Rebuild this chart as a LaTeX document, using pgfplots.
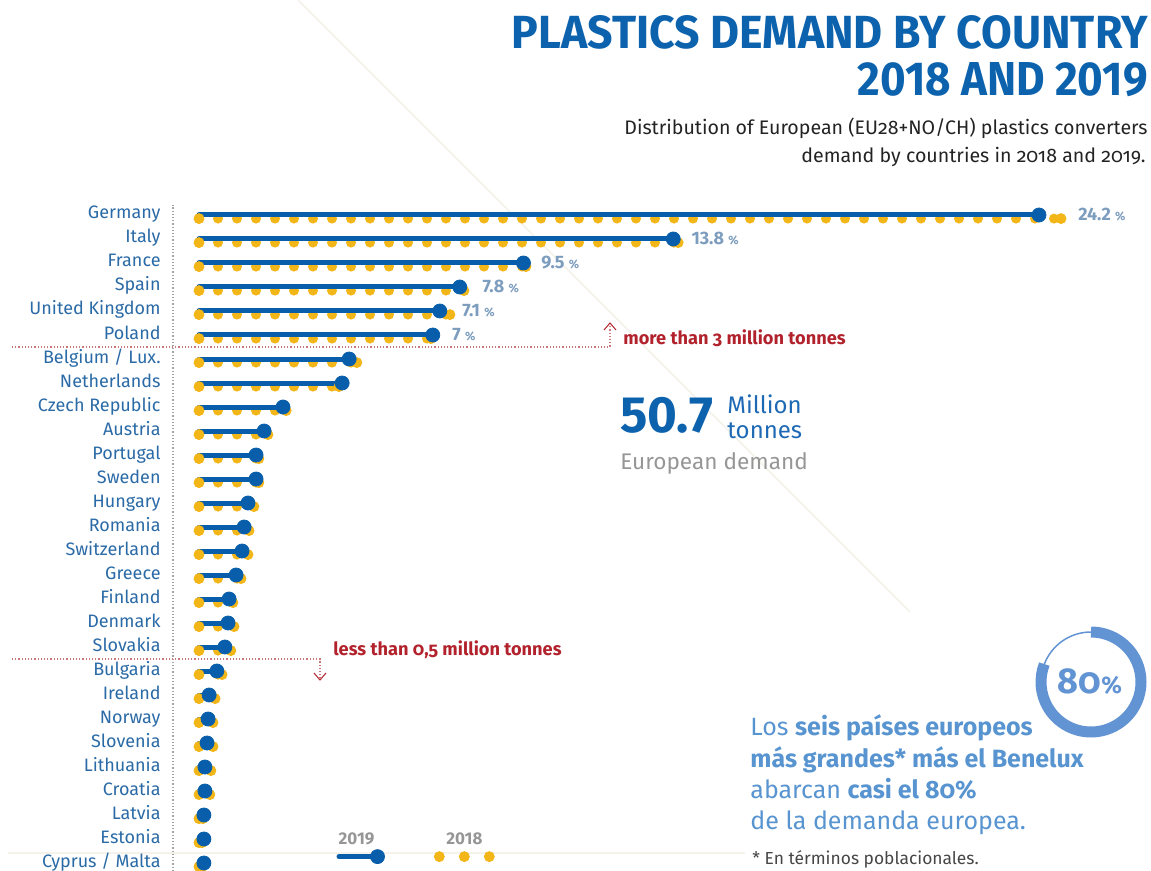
\documentclass[border=0pt]{standalone}
\usepackage{pgfplots}
\pgfplotsset{compat=1.18}
\usepackage{pgfplotstable}
\usepackage{graphicx}
\usepackage{fontspec}
\setmainfont{Fira Sans}
\newfontfamily\firaold{Fira Sans}[Numbers=OldStyle]

\definecolor{mblue}{RGB}{8,94,170}
\definecolor{myellow}{RGB}{243,182,25}
\definecolor{lblue}{RGB}{42,106,166}
\definecolor{pctgray}{RGB}{125,157,190}
\definecolor{tblue}{RGB}{12,98,173}
\definecolor{dred}{RGB}{178,34,44}
\definecolor{lred}{RGB}{205,120,120}
\definecolor{ringblue}{RGB}{98,148,212}
\definecolor{sptext}{RGB}{88,148,208}
\definecolor{greytext}{RGB}{150,150,150}
\definecolor{faint}{RGB}{244,242,235}

\newcommand{\pct}[1]{\bfseries\fontsize{9}{10}\selectfont #1~{\fontsize{6}{7}\selectfont\%}}

% y = -row index (Germany at top)
\pgfplotstableread{
y v19 v18
0 24.2 24.83
-1 13.75 13.89
-2 9.47 9.54
-3 7.65 7.77
-4 7.08 7.37
-5 6.88 6.83
-6 4.49 4.71
-7 4.29 4.20
-8 2.60 2.69
-9 2.06 2.17
-10 1.83 1.91
-11 1.83 1.91
-12 1.60 1.77
-13 1.49 1.63
-14 1.43 1.60
-15 1.26 1.40
-16 1.06 1.17
-17 1.03 1.20
-18 0.94 1.11
-19 0.71 0.86
-20 0.49 0.66
-21 0.46 0.60
-22 0.43 0.60
-23 0.37 0.54
-24 0.37 0.51
-25 0.34 0.31
-26 0.34 0.29
-27 0.34 0.29
}\demand

\begin{document}
\begin{tikzpicture}[x=0.5pt,y=-0.5pt]
\useasboundingbox (0,0) rectangle (1151,871);
% faint background lines
\draw[faint, line width=0.8pt] (298,0) -- (910,612);
\draw[faint, line width=0.6pt] (8,853) -- (745,853);

% title
\node[anchor=north east, inner sep=0pt, text=tblue] at (1148,15)
  {\resizebox{318pt}{16.5pt}{\bfseries PLASTICS DEMAND BY COUNTRY}};
\node[anchor=north east, inner sep=0pt, text=tblue] at (1148,62)
  {\resizebox{145pt}{16.5pt}{\bfseries 2018 AND 2019}};
\node[anchor=base east, inner sep=0pt, text={rgb,255:red,35;green,35;blue,35}] at (1148,135)
  {\firaold\fontsize{9.8}{11}\selectfont Distribution of European (EU28+NO/CH) plastics converters};
\node[anchor=base east, inner sep=0pt, text={rgb,255:red,35;green,35;blue,35}] at (1146,163)
  {\firaold\fontsize{9.8}{11}\selectfont demand by countries in 2018 and 2019.};

\begin{axis}[
  at={(86.5pt,-435.5pt)}, anchor=south west,
  scale only axis, width=482pt, height=333pt,
  xmin=-0.5429, xmax=27.0, ymin=-27.333, ymax=0.4167,
  clip=false,
  axis x line=none, axis y line*=left,
  y axis line style={densely dotted, draw={rgb,255:red,165;green,165;blue,165}, line width=0.6pt},
  ytick={-27,...,0},
  yticklabels={Cyprus / Malta, Estonia, Latvia, Croatia, Lithuania, Slovenia, Norway, Ireland, Bulgaria, Slovakia, Denmark, Finland, Greece, Switzerland, Romania, Hungary, Sweden, Portugal, Austria, Czech Republic, Netherlands, Belgium / Lux., Poland, United Kingdom, Spain, France, Italy, Germany},
  major tick length=0pt, ytick style={draw=none},
  yticklabel style={anchor=base east, inner sep=0pt, xshift=-6pt, yshift=-2pt, text=lblue, font=\fontsize{9}{10}\selectfont},
  legend columns=2,
  legend style={at={(axis cs:4.129,-27.042)}, anchor=south west, draw=none, fill=none,
    inner sep=0pt, outer sep=0pt, nodes={inner sep=0pt},
    /tikz/every even column/.append style={column sep=23.5pt}},
]
% 2018: dotted yellow line from the start to the value, plus end dot
\addplot[forget plot, only marks, mark=*, mark size=2.5pt, color=myellow,
  error bars/.cd, x dir=plus, x explicit, error mark=none,
  error bar style={line width=5pt, line cap=round, dash pattern=on 0pt off 9.5pt, draw=myellow}]
  table[x expr=0.2, y expr=\thisrow{y}-0.15, x error expr=\thisrow{v18}-0.2]{\demand};
\addplot[forget plot, only marks, mark=*, mark size=2.5pt, color=myellow]
  table[x=v18, y expr=\thisrow{y}-0.15]{\demand};
% 2019: solid blue line with end dot
\addplot[forget plot, only marks, mark=*, mark size=3.5pt, color=mblue,
  error bars/.cd, x dir=minus, x explicit, error mark=none,
  error bar style={line width=2.5pt, line cap=round, draw=mblue}]
  table[x=v19, y=y, x error expr=\thisrow{v19}-0.2]{\demand};

% share labels
\node[anchor=west, inner sep=0pt, text=pctgray] at (axis cs:25.31,0) {\pct{24.2}};
\node[anchor=west, inner sep=0pt, text=pctgray] at (axis cs:14.26,-1) {\pct{13.8}};
\node[anchor=west, inner sep=0pt, text=pctgray] at (axis cs:9.97,-2) {\pct{9.5}};
\node[anchor=west, inner sep=0pt, text=pctgray] at (axis cs:8.29,-3) {\pct{7.8}};
\node[anchor=west, inner sep=0pt, text=pctgray] at (axis cs:7.71,-4) {\pct{7.1}};
\node[anchor=west, inner sep=0pt, text=pctgray] at (axis cs:7.43,-5) {\pct{7}};

\addlegendimage{legend image code/.code={
  \draw[mblue, line width=2.5pt, line cap=round] (0pt,0pt) -- (19.25pt,0pt);
  \fill[mblue] (19.25pt,0pt) circle (3.5pt);
  \node[anchor=base, inner sep=0pt, text=greytext, font=\bfseries\fontsize{8.5}{10}\selectfont] at (8.75pt,6pt) {2019};
}}
\addlegendentry{}
\addlegendimage{legend image code/.code={
  \fill[myellow] (0pt,0pt) circle (2.5pt);
  \fill[myellow] (12.5pt,0pt) circle (2.5pt);
  \fill[myellow] (25pt,0pt) circle (2.5pt);
  \node[anchor=base, inner sep=0pt, text=greytext, font=\bfseries\fontsize{8.5}{10}\selectfont] at (12.5pt,6pt) {2018};
}}
\addlegendentry{}
\end{axis}

% thresholds
\draw[lred, densely dotted, line width=0.6pt] (12,347) -- (610,347) -- (610,325);
\draw[dred, line width=0.5pt] (604,330) -- (610,323) -- (616,330);
\node[anchor=west, inner sep=0pt, text=dred] at (623,338)
  {\firaold\bfseries\fontsize{9.1}{10}\selectfont more than 3 million tonnes};
\draw[lred, densely dotted, line width=0.6pt] (12,659) -- (320,659) -- (320,678);
\draw[dred, line width=0.5pt] (314,673) -- (320,680) -- (326,673);
\node[anchor=west, inner sep=0pt, text=dred] at (333,650)
  {\firaold\bfseries\fontsize{9.1}{10}\selectfont less than 0,5 million tonnes};

% total
\node[anchor=base west, inner sep=0pt, text=tblue] at (620,433) {\bfseries\fontsize{25.5}{28}\selectfont 50.7};
\node[anchor=base west, inner sep=0pt, align=left, text={rgb,255:red,30;green,105;blue,180},
  font=\fontsize{12}{12.5}\selectfont] at (727,438) {Million\\tonnes};
\node[anchor=base west, inner sep=0pt, text=greytext] at (620,469) {\fontsize{11.3}{13}\selectfont European demand};

% 80% ring (y axis of the picture points down, so angles are mirrored)
\draw[ringblue, line width=0.75pt] (1091,682) ++(-159:50) arc[start angle=-159, end angle=-90, radius=50];
\draw[ringblue, line width=5.5pt] (1091,682) ++(-90:50) arc[start angle=-90, end angle=201, radius=50];
\node[anchor=base, inner sep=0pt, text=ringblue] at (1090,693)
  {\firaold\bfseries\fontsize{18}{19}\selectfont 80{\fontsize{12}{13}\selectfont\%}};

% Spanish note
\node[anchor=base west, inner sep=0pt, text=sptext] at (750,735) {\firaold\fontsize{12.5}{15}\selectfont Los \textbf{seis países europeos}};
\node[anchor=base west, inner sep=0pt, text=sptext] at (750,767) {\firaold\fontsize{12.5}{15}\selectfont \textbf{más grandes* más el Benelux}};
\node[anchor=base west, inner sep=0pt, text=sptext] at (750,798) {\firaold\fontsize{12.5}{15}\selectfont abarcan \textbf{casi el 80\%}};
\node[anchor=base west, inner sep=0pt, text=sptext] at (750,829) {\firaold\fontsize{12.5}{15}\selectfont de la demanda europea.};
\node[anchor=base west, inner sep=0pt, text={rgb,255:red,70;green,70;blue,70}] at (752,864) {\firaold\fontsize{8.7}{10}\selectfont * En términos poblacionales.};
\end{tikzpicture}
\end{document}
